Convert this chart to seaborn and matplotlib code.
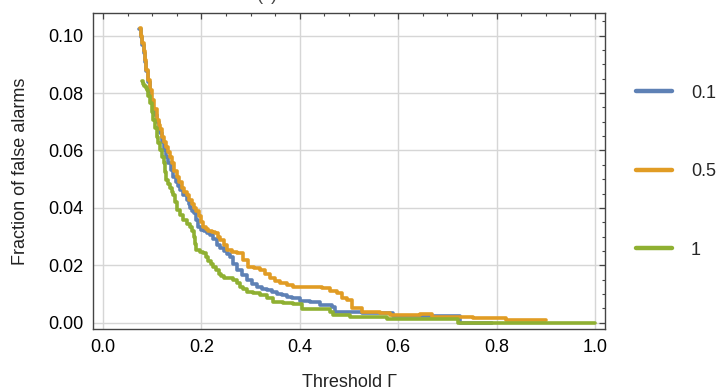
import numpy as np
import pandas as pd
import matplotlib
matplotlib.use("Agg")
import matplotlib.pyplot as plt
from matplotlib.ticker import MultipleLocator, FormatStrFormatter
from matplotlib.lines import Line2D
import seaborn as sns

# ---- data ----
labels = ["0.1", "0.5", "1"]
colors = ["#5E81B5", "#E19C24", "#8FB032"]

x_01 = [0.074, 0.077, 0.080, 0.083, 0.085, 0.088, 0.091, 0.095, 0.098, 0.102, 0.106,
        0.110, 0.113, 0.116, 0.120, 0.123, 0.128, 0.133, 0.138, 0.143, 0.148, 0.152,
        0.157, 0.163, 0.170, 0.174, 0.177, 0.181, 0.184, 0.189, 0.194, 0.200, 0.205,
        0.211, 0.217, 0.224, 0.231, 0.238, 0.245, 0.252, 0.258, 0.265, 0.272, 0.282,
        0.292, 0.303, 0.313, 0.323, 0.333, 0.343, 0.353, 0.363, 0.373, 0.385, 0.400,
        0.421, 0.441, 0.465, 0.472, 0.526, 0.590, 0.685, 0.726, 0.790]
y_01 = [0.1022, 0.0995, 0.0968, 0.0940, 0.0910, 0.0876, 0.0840, 0.0808, 0.0775, 0.0745, 0.0722,
        0.0700, 0.0680, 0.0660, 0.0630, 0.0602, 0.0578, 0.0555, 0.0532, 0.0509, 0.0490, 0.0476,
        0.0462, 0.0445, 0.0428, 0.0412, 0.0400, 0.0390, 0.0381, 0.0358, 0.0334, 0.0322, 0.0318,
        0.0311, 0.0305, 0.0290, 0.0272, 0.0260, 0.0250, 0.0240, 0.0230, 0.0205, 0.0184, 0.0165,
        0.0149, 0.0135, 0.0125, 0.0118, 0.0114, 0.0108, 0.0100, 0.0095, 0.0091, 0.0085, 0.0077,
        0.0071, 0.0062, 0.0054, 0.0038, 0.0033, 0.0022, 0.0024, 0.0000, 0.0000]

x_05 = [0.075, 0.077, 0.080, 0.083, 0.085, 0.088, 0.092, 0.095, 0.099, 0.103, 0.109,
        0.113, 0.116, 0.119, 0.123, 0.128, 0.132, 0.136, 0.140, 0.145, 0.150, 0.155,
        0.160, 0.165, 0.170, 0.175, 0.180, 0.185, 0.190, 0.195, 0.200, 0.204, 0.209,
        0.214, 0.221, 0.228, 0.233, 0.238, 0.245, 0.252, 0.262, 0.272, 0.285, 0.295,
        0.307, 0.319, 0.329, 0.339, 0.350, 0.360, 0.373, 0.387, 0.400, 0.445, 0.461,
        0.475, 0.485, 0.495, 0.506, 0.526, 0.563, 0.583, 0.644, 0.668, 0.753, 0.820,
        0.900]
y_05 = [0.1026, 0.1000, 0.0974, 0.0945, 0.0915, 0.0880, 0.0846, 0.0812, 0.0776, 0.0745, 0.0706,
        0.0690, 0.0675, 0.0648, 0.0630, 0.0613, 0.0595, 0.0578, 0.0555, 0.0530, 0.0509, 0.0490,
        0.0470, 0.0455, 0.0445, 0.0428, 0.0415, 0.0400, 0.0390, 0.0370, 0.0350, 0.0334, 0.0326,
        0.0320, 0.0315, 0.0311, 0.0300, 0.0288, 0.0270, 0.0253, 0.0248, 0.0242, 0.0220, 0.0195,
        0.0190, 0.0184, 0.0170, 0.0155, 0.0145, 0.0137, 0.0130, 0.0125, 0.0123, 0.0120, 0.0111,
        0.0102, 0.0085, 0.0079, 0.0050, 0.0038, 0.0033, 0.0028, 0.0029, 0.0021, 0.0015, 0.0009,
        0.0009]

x_1 = [0.080, 0.082, 0.084, 0.087, 0.089, 0.092, 0.096, 0.099, 0.102, 0.105, 0.109,
       0.112, 0.116, 0.120, 0.123, 0.126, 0.129, 0.133, 0.136, 0.140, 0.143, 0.147,
       0.150, 0.156, 0.163, 0.170, 0.177, 0.181, 0.184, 0.187, 0.190, 0.197, 0.204,
       0.209, 0.214, 0.219, 0.224, 0.230, 0.235, 0.240, 0.245, 0.265, 0.272, 0.278,
       0.285, 0.292, 0.305, 0.319, 0.333, 0.346, 0.366, 0.387, 0.404, 0.448, 0.461,
       0.468, 0.502, 0.578, 0.722, 1.000]
y_1 = [0.0842, 0.0832, 0.0825, 0.0818, 0.0811, 0.0790, 0.0764, 0.0735, 0.0706, 0.0678, 0.0648,
       0.0625, 0.0602, 0.0578, 0.0555, 0.0525, 0.0497, 0.0482, 0.0470, 0.0455, 0.0445, 0.0420,
       0.0393, 0.0375, 0.0358, 0.0345, 0.0334, 0.0318, 0.0300, 0.0275, 0.0253, 0.0248, 0.0242,
       0.0228, 0.0215, 0.0205, 0.0195, 0.0182, 0.0170, 0.0162, 0.0155, 0.0149, 0.0138, 0.0125,
       0.0116, 0.0108, 0.0102, 0.0097, 0.0085, 0.0073, 0.0068, 0.0064, 0.0049, 0.0047, 0.0036,
       0.0027, 0.0021, 0.0012, 0.0000, 0.0000]

xs = [x_01, x_05, x_1]
ys = [y_01, y_05, y_1]
df = pd.concat([pd.DataFrame({"threshold": x, "fraction": y, "series": lab})
                for x, y, lab in zip(xs, ys, labels)], ignore_index=True)

# ---- style ----
sns.set_theme(style="white")
plt.rcParams["font.family"] = ["Liberation Sans", "DejaVu Sans"]
plt.rcParams["font.size"] = 13

fig = plt.figure(figsize=(7.23, 3.92), dpi=100)
ax = fig.add_axes([93 / 723, 1 - 329 / 392, (605 - 93) / 723, (329 - 13) / 392])

sns.lineplot(data=df, x="threshold", y="fraction", hue="series", hue_order=labels,
             palette=colors, estimator=None, sort=False, drawstyle="steps-post",
             linewidth=2.6, ax=ax, legend=False)

ax.set_xlim(-0.0203, 1.0203)
ax.set_ylim(-0.0022, 0.1079)
ax.xaxis.set_major_locator(MultipleLocator(0.2))
ax.xaxis.set_minor_locator(MultipleLocator(0.05))
ax.yaxis.set_major_locator(MultipleLocator(0.02))
ax.yaxis.set_minor_locator(MultipleLocator(0.005))
ax.xaxis.set_major_formatter(FormatStrFormatter("%.1f"))
ax.yaxis.set_major_formatter(FormatStrFormatter("%.2f"))

ax.grid(True, which="major", color="#d6d6d6", linewidth=1.0)
ax.set_axisbelow(True)
for sp in ax.spines.values():
    sp.set_color("#444444")
    sp.set_linewidth(1.0)
ax.tick_params(which="both", direction="in", top=True, right=True,
               color="#444444", labelsize=13, labelcolor="black", pad=7)
ax.tick_params(which="major", length=4.5, width=0.9)
ax.tick_params(which="minor", length=2.5, width=0.8)

ax.set_xlabel("Threshold \u0393", fontsize=13, labelpad=13, color="#222222")
ax.set_ylabel("Fraction of false alarms", fontsize=13, labelpad=14, color="#222222")

# partially clipped panel title at the top (only the bottom of the brackets shows)
fig.text(267 / 723, 1.0, "(c)", ha="center", va="baseline", fontsize=13,
         color="#444444")

handles = [Line2D([], [], color=c, linewidth=3.2) for c in colors]
fig.legend(handles, labels, loc="center left", bbox_to_anchor=(636 / 723, 1 - 171.7 / 392),
           frameon=False, fontsize=13, handlelength=2.0, handletextpad=1.05,
           labelspacing=3.4, borderpad=0, borderaxespad=0)

fig.savefig("out.png", dpi=100)
